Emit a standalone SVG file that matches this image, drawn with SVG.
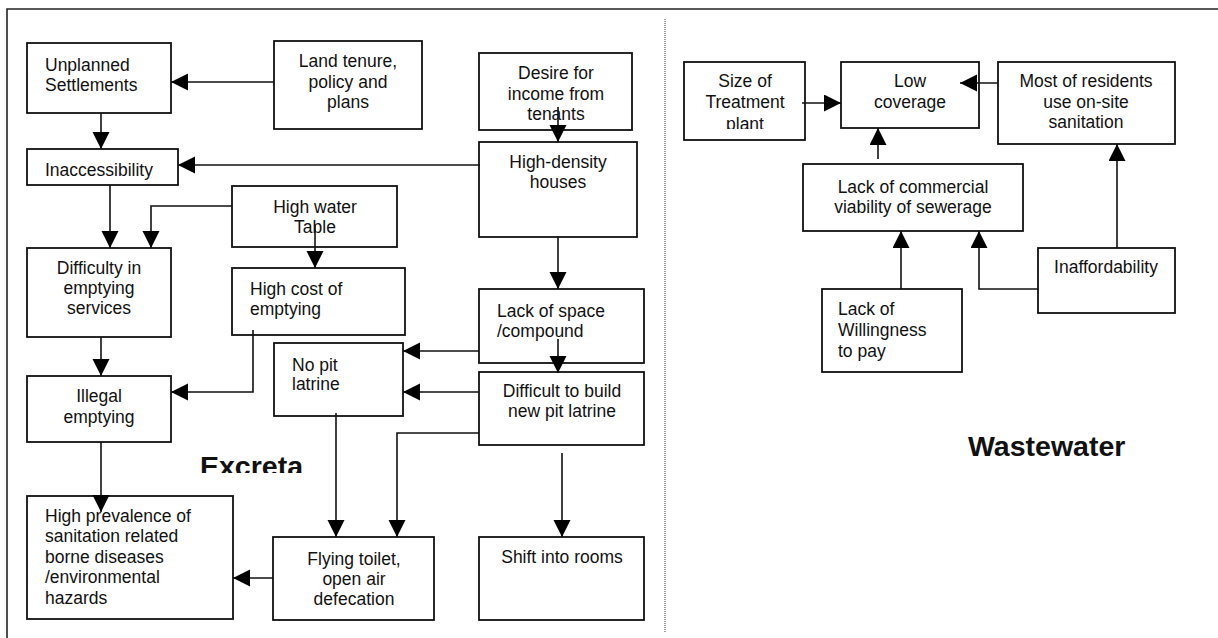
<svg xmlns="http://www.w3.org/2000/svg" width="1218" height="638" viewBox="0 0 1218 638">
<style>
.box{fill:#fff;stroke:#111;stroke-width:1.8}
text{font-family:"Liberation Sans",Arial,sans-serif;font-size:17.5px;fill:#111}
.c{text-anchor:middle}
.t{font-weight:bold;font-size:28.5px}
.ln{fill:none;stroke:#111;stroke-width:1.6}
.ar{fill:none;stroke:#111;stroke-width:1.6;marker-end:url(#ah)}
</style>
<defs>
<marker id="ah" markerUnits="userSpaceOnUse" markerWidth="18" markerHeight="18" refX="17" refY="8.5" orient="auto"><path d="M0,0 L17,8.5 L0,17 Z" fill="#000"/></marker>
<clipPath id="clipInacc"><rect x="27" y="149" width="151" height="35"/></clipPath>
<clipPath id="clipExc"><rect x="190" y="440" width="130" height="33"/></clipPath>
<clipPath id="clipPlant"><rect x="684" y="62" width="121" height="67"/></clipPath>
</defs>
<rect width="1218" height="638" fill="#fff"/>
<g id="frame">
<path d="M7,638 V9 H1218" fill="none" stroke="#222" stroke-width="1.6"/>
<line x1="665" y1="19" x2="665" y2="632" stroke="#666" stroke-width="1.2" stroke-dasharray="1,1"/>
</g>
<g id="unplanned"><rect class="box" x="27" y="43" width="144" height="70"/><text x="45" y="71">Unplanned</text><text x="45" y="91">Settlements</text></g>
<g id="land"><rect class="box" x="274" y="41" width="148" height="88"/><text class="c" x="348" y="67">Land tenure,</text><text class="c" x="348" y="88">policy and</text><text class="c" x="348" y="108">plans</text></g>
<g id="desire"><rect class="box" x="479" y="53" width="153" height="77"/><text class="c" x="556" y="79">Desire for</text><text class="c" x="556" y="100">income from</text><text class="c" x="556" y="120">tenants</text></g>
<g id="inacc"><rect class="box" x="27" y="149" width="151" height="36"/><text x="45" y="176" clip-path="url(#clipInacc)">Inaccessibility</text></g>
<g id="highdensity"><rect class="box" x="479" y="142" width="158" height="95"/><text class="c" x="558" y="168">High-density</text><text class="c" x="558" y="188">houses</text></g>
<g id="watertable"><rect class="box" x="232" y="186" width="165" height="61"/><text class="c" x="315" y="213">High water</text><text class="c" x="315" y="233">Table</text></g>
<g id="difficulty"><rect class="box" x="27" y="248" width="144" height="89"/><text class="c" x="99" y="274">Difficulty in</text><text class="c" x="99" y="294">emptying</text><text class="c" x="99" y="314">services</text></g>
<g id="highcost"><rect class="box" x="232" y="268" width="173" height="67"/><text x="250" y="295">High cost of</text><text x="250" y="315">emptying</text></g>
<g id="lackspace"><rect class="box" x="479" y="289" width="165" height="74"/><text x="497" y="317">Lack of space</text><text x="497" y="337">/compound</text></g>
<g id="nopit"><rect class="box" x="274" y="343" width="129" height="73"/><text x="292" y="371">No pit</text><text x="292" y="390">latrine</text></g>
<g id="difficult"><rect class="box" x="479" y="372" width="165" height="73"/><text class="c" x="562" y="397">Difficult to build</text><text class="c" x="562" y="417">new pit latrine</text></g>
<g id="illegal"><rect class="box" x="27" y="376" width="144" height="66"/><text class="c" x="99" y="402">Illegal</text><text class="c" x="99" y="423">emptying</text></g>
<g id="excreta"><text class="t" x="200" y="476" clip-path="url(#clipExc)">Excreta</text></g>
<g id="prevalence"><rect class="box" x="27" y="496" width="206" height="123"/><text x="45" y="522">High prevalence of</text><text x="45" y="542">sanitation related</text><text x="45" y="563">borne diseases</text><text x="45" y="583">/environmental</text><text x="45" y="604">hazards</text></g>
<g id="flying"><rect class="box" x="273" y="537" width="161" height="83"/><text class="c" x="354" y="565">Flying toilet,</text><text class="c" x="354" y="585">open air</text><text class="c" x="354" y="605">defecation</text></g>
<g id="shift"><rect class="box" x="479" y="537" width="165" height="83"/><text class="c" x="562" y="563">Shift into rooms</text></g>
<g id="size"><rect class="box" x="684" y="62" width="121" height="78"/><g clip-path="url(#clipPlant)"><text class="c" x="745" y="87">Size of</text><text class="c" x="745" y="108">Treatment</text><text class="c" x="745" y="130">plant</text></g></g>
<g id="low"><rect class="box" x="841" y="62" width="138" height="66"/><text class="c" x="910" y="87">Low</text><text class="c" x="910" y="108">coverage</text></g>
<g id="most"><rect class="box" x="998" y="62" width="177" height="82"/><text class="c" x="1086" y="87">Most of residents</text><text class="c" x="1086" y="108">use on-site</text><text class="c" x="1086" y="128">sanitation</text></g>
<g id="commercial"><rect class="box" x="803" y="164" width="220" height="67"/><text class="c" x="913" y="193">Lack of commercial</text><text class="c" x="913" y="213">viability of sewerage</text></g>
<g id="inaff"><rect class="box" x="1038" y="248" width="137" height="65"/><text class="c" x="1106" y="273">Inaffordability</text></g>
<g id="willingness"><rect class="box" x="822" y="289" width="140" height="83"/><text x="838" y="315">Lack of</text><text x="838" y="336">Willingness</text><text x="838" y="357">to pay</text></g>
<g id="wastewater"><text class="t" x="968" y="456">Wastewater</text></g>
<g id="connectors">
<path class="ar" d="M274,82 H171"/>
<path class="ar" d="M101,113 V149"/>
<path class="ar" d="M480,165 H178"/>
<path class="ar" d="M558,107 V142"/>
<path class="ar" d="M110,185 V248"/>
<path class="ar" d="M232,206 H151 V248"/>
<path class="ar" d="M315,225 V268"/>
<path class="ar" d="M558,237 V289"/>
<path class="ar" d="M558,339 V373"/>
<path class="ar" d="M479,351 H403"/>
<path class="ar" d="M479,392 H403"/>
<path class="ar" d="M101,337 V376"/>
<path class="ar" d="M253,330 V392 H171"/>
<path class="ar" d="M101,442 V512"/>
<path class="ar" d="M336,413 V537"/>
<path class="ar" d="M479,433 H397 V537"/>
<path class="ar" d="M562,453 V537"/>
<path class="ar" d="M273,578 H233"/>
<path class="ar" d="M802,103 H841"/>
<path class="ar" d="M998,83 H960"/>
<path class="ar" d="M878,159 V128"/>
<path class="ar" d="M1117,248 V144"/>
<path class="ar" d="M901,289 V231"/>
<path class="ar" d="M1038,289 H979 V231"/>
</g>
</svg>
